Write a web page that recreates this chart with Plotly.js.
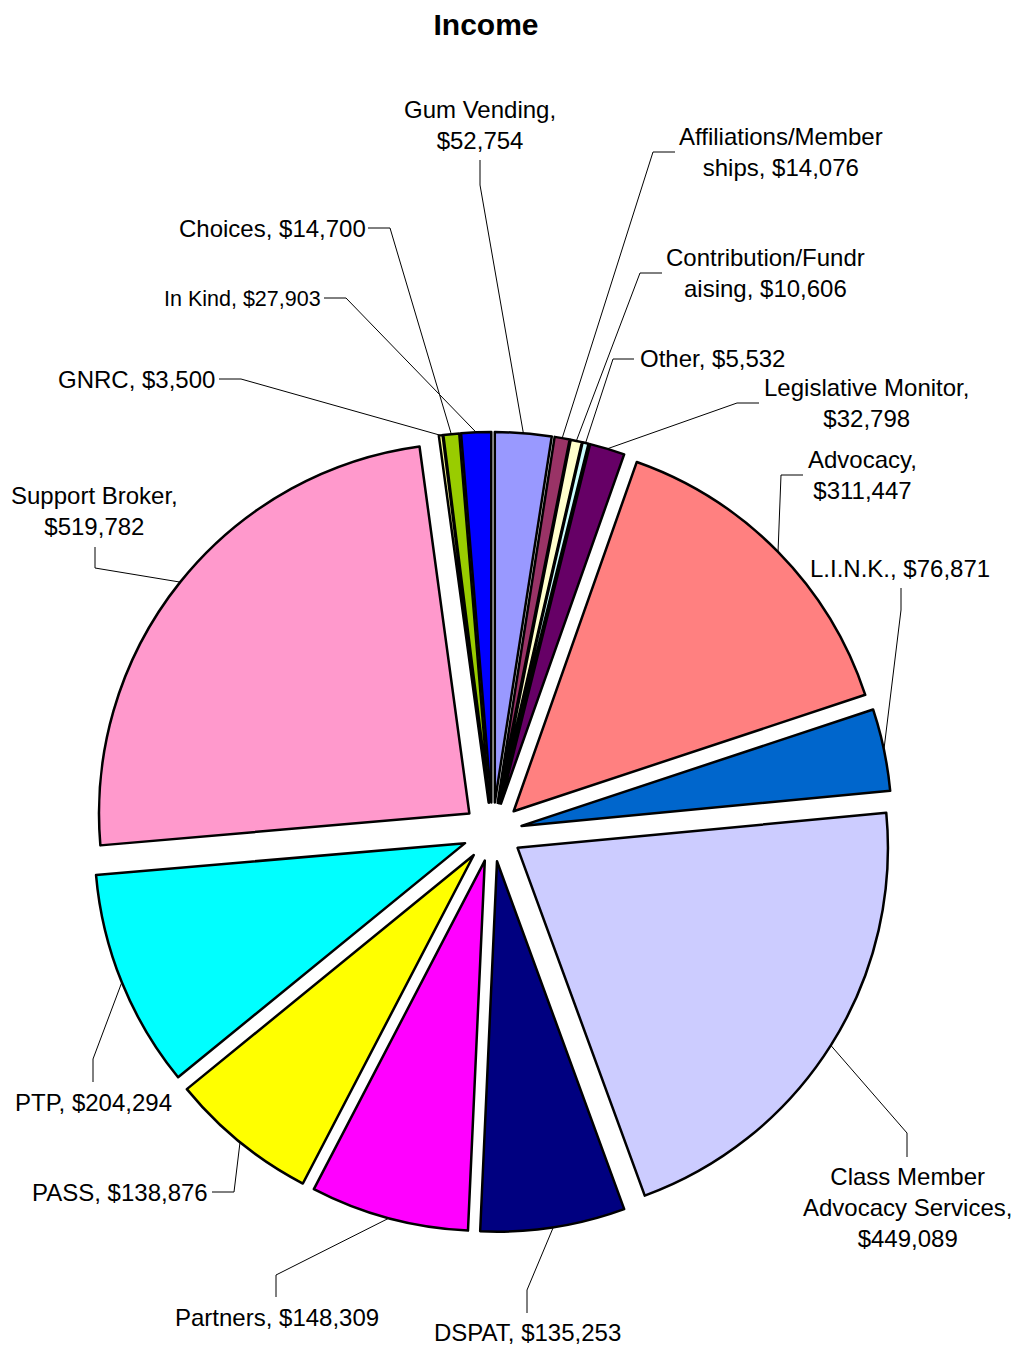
<!DOCTYPE html>
<html><head><meta charset="utf-8">
<script src="https://cdn.plot.ly/plotly-3.0.1.min.js"></script>
<style>html,body{margin:0;padding:0;background:#fff}#chart{width:1017px;height:1349px}</style>
</head><body><div id="chart"></div>
<script>
// ---- data (clockwise from 12 o'clock) ----
const categories = ["Gum Vending","Affiliations/Memberships","Contribution/Fundraising","Other",
  "Legislative Monitor","Advocacy","L.I.N.K.","Class Member Advocacy Services","DSPAT","Partners",
  "PASS","PTP","Support Broker","GNRC","Choices","In Kind"];
const amounts = [52754,14076,10606,5532,32798,311447,76871,449089,135253,148309,138876,204294,519782,3500,14700,27903];
const sliceColors = ["#9999FF","#993366","#FFFFCC","#CCFFFF","#660066","#FF8080","#0066CC","#CCCCFF",
  "#000080","#FF00FF","#FFFF00","#00FFFF","#FF99CC","#FFFF99","#99CC00","#0000FF"];

// ---- label layout (pixels): text centre, line breaks, leader start and elbow ----
const labelPos = [
  {x:480, y:125,  brk:[12],    p0:[480,160], p1:[480,185]},
  {x:781, y:152,  brk:[19],    p0:[675,152], p1:[653,152]},
  {x:765, y:273,  brk:[18],    p0:[662,273], p1:[640,273]},
  {x:712, y:359,  brk:[],      p0:[634,359], p1:[613,359]},
  {x:866, y:403,  brk:[20],    p0:[759,403], p1:[737,403]},
  {x:862, y:475,  brk:[9],     p0:[803,475], p1:[781,475]},
  {x:900, y:568,  brk:[],      p0:[901,588], p1:[901,610]},
  {x:907, y:1207, brk:[12,31], p0:[907,1157], p1:[907,1133]},
  {x:527, y:1332, brk:[],      p0:[527,1313], p1:[527,1290]},
  {x:277, y:1317, brk:[],      p0:[276,1297], p1:[276,1275]},
  {x:120, y:1192, brk:[],      p0:[212,1192], p1:[234,1192]},
  {x:93,  y:1102, brk:[],      p0:[93,1082], p1:[93,1059]},
  {x:94,  y:511,  brk:[15],    p0:[95,547], p1:[95,568]},
  {x:136, y:379,  brk:[],      p0:[219,379], p1:[241,379]},
  {x:272, y:228,  brk:[],      p0:[368,228], p1:[390,228]},
  {x:242, y:299,  brk:[], size:21.5, p0:[324,298], p1:[346,298]}
];

const W = 1017, H = 1349;
const PULL = 0.08;
const pieCx = 492.5, pieCy = 832, pieOuter = 400; // half box incl. pull
const FONT = "Liberation Sans, Arial, Helvetica, sans-serif";

function fmt(n){ return String(n).replace(/\B(?=(\d{3})+(?!\d))/g, ","); }
function labelText(i){
  let s = categories[i] + ", $" + fmt(amounts[i]);
  const b = labelPos[i].brk.slice().sort((a,c)=>c-a);
  for (const k of b) s = s.slice(0,k) + "<br>" + s.slice(k).replace(/^ /,"");
  return s;
}

const trace = {
  type: "pie",
  labels: categories,
  values: amounts,
  sort: false,
  direction: "clockwise",
  rotation: 0,
  pull: amounts.map(()=>PULL),
  textinfo: "none",
  hoverinfo: "label+value",
  marker: {colors: sliceColors, line: {color: "#000000", width: 2.5}},
  domain: {
    x: [(pieCx - pieOuter)/W, (pieCx + pieOuter)/W],
    y: [1 - (pieCy + pieOuter)/H, 1 - (pieCy - pieOuter)/H]
  },
  showlegend: false
};

const annotations = categories.map((c,i)=>({
  xref: "paper", yref: "paper",
  x: labelPos[i].x / W, y: 1 - labelPos[i].y / H,
  xanchor: "center", yanchor: "middle",
  text: labelText(i), showarrow: false, align: "center",
  font: {family: FONT, size: labelPos[i].size || 24, color: "#000"}
}));

const layout = {
  width: W, height: H,
  margin: {l:0, r:0, t:0, b:0},
  paper_bgcolor: "#ffffff",
  plot_bgcolor: "#ffffff",
  showlegend: false,
  title: {text: "<b>Income</b>", font: {family: FONT, size: 30, color: "#000"},
          x: 486/W, xanchor: "center", xref: "container",
          y: 1 - 24/H, yanchor: "middle", yref: "container"},
  annotations: annotations
};

Plotly.newPlot("chart", [trace], layout, {staticPlot: true}).then(gd => {
  const cd0 = gd.calcdata && gd.calcdata[0] && gd.calcdata[0][0];
  const sz = gd._fullLayout._size;
  const r = (cd0 && cd0.r) || pieOuter/(1+PULL);
  const cx = (cd0 && cd0.cx) || pieCx;
  const cy = (cd0 && cd0.cy) || pieCy;
  const total = amounts.reduce((a,b)=>a+b,0);
  let cum = 0;
  const px = x => (x - sz.l)/sz.w;
  const py = y => 1 - (y - sz.t)/sz.h;
  const shapes = amounts.map((v,i)=>{
    const mid = 2*Math.PI*(cum + v/2)/total;
    cum += v;
    const R = r*(1+PULL);
    const ex = cx + R*Math.sin(mid), ey = cy - R*Math.cos(mid);
    const L = labelPos[i];
    return {
      type: "path", xref: "paper", yref: "paper",
      path: `M${px(L.p0[0])},${py(L.p0[1])} L${px(L.p1[0])},${py(L.p1[1])} L${px(ex)},${py(ey)}`,
      line: {color: "#000", width: 1}
    };
  });
  return Plotly.relayout(gd, {shapes: shapes});
});
</script>
</body></html>
